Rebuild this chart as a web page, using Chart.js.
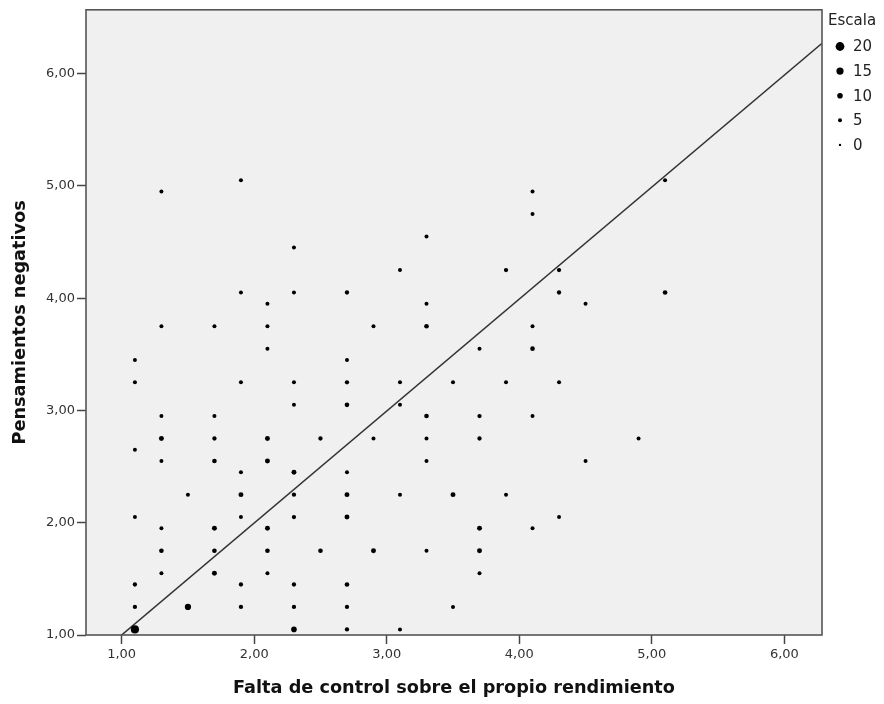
<!DOCTYPE html>
<html>
<head>
<meta charset="utf-8">
<script src="https://cdn.jsdelivr.net/npm/chart.js@4"></script>
<style>
  body { margin: 0; background: #fff; }
  #wrap { width: 884px; height: 704px; }
</style>
</head>
<body>
<div id="wrap"><canvas id="bubbleChart" width="884" height="704"></canvas></div>
<script>
// x positions of the point columns (Falta de control sobre el propio rendimiento)
const xColumns = [1.1, 1.3, 1.5, 1.7, 1.9, 2.1, 2.3, 2.5, 2.7, 2.9, 3.1, 3.3, 3.5, 3.7, 3.9, 4.1, 4.3, 4.5, 4.9, 5.1];
// y values found in each column (Pensamientos negativos)
const yByColumn = [
  [3.45, 3.25, 2.65, 2.05, 1.45, 1.25, 1.05],
  [4.95, 3.75, 2.95, 2.75, 2.55, 1.95, 1.75, 1.55],
  [2.25, 1.25],
  [3.75, 2.95, 2.75, 2.55, 1.95, 1.75, 1.55],
  [5.05, 4.05, 3.25, 2.45, 2.25, 2.05, 1.45, 1.25],
  [3.95, 3.75, 3.55, 2.75, 2.55, 1.95, 1.75, 1.55],
  [4.45, 4.05, 3.25, 3.05, 2.45, 2.25, 2.05, 1.45, 1.25, 1.05],
  [2.75, 1.75],
  [4.05, 3.45, 3.25, 3.05, 2.45, 2.25, 2.05, 1.45, 1.25, 1.05],
  [3.75, 2.75, 1.75],
  [4.25, 3.25, 3.05, 2.25, 1.05],
  [4.55, 3.95, 3.75, 2.95, 2.75, 2.55, 1.75],
  [3.25, 2.25, 1.25],
  [3.55, 2.95, 2.75, 1.95, 1.75, 1.55],
  [4.25, 3.25, 2.25],
  [4.95, 4.75, 3.75, 3.55, 2.95, 1.95],
  [4.25, 4.05, 3.25, 2.05],
  [3.95, 2.55],
  [2.75],
  [5.05, 4.05]
];
// "Escala" value of each point (drives the marker size)
const countByColumn = [
  [5, 5, 5, 5, 6, 6, 18],
  [5, 5, 5, 8, 5, 5, 7, 5],
  [5, 12],
  [5, 5, 6, 7, 8, 7, 8],
  [5, 5, 5, 5, 8, 5, 6, 6],
  [5, 5, 5, 8, 8, 8, 7, 5],
  [5, 5, 5, 5, 8, 6, 6, 6, 6, 10],
  [6, 7],
  [6, 5, 6, 7, 5, 8, 8, 7, 6, 6],
  [5, 5, 8],
  [5, 5, 5, 5, 5],
  [5, 5, 7, 7, 5, 5, 5],
  [5, 8, 5],
  [5, 6, 6, 8, 8, 5],
  [6, 5, 5],
  [5, 5, 5, 7, 5, 5],
  [6, 6, 5, 5],
  [5, 5],
  [5],
  [5, 7]
];
const xTicks = [1, 2, 3, 4, 5, 6];
const yTicks = [1, 2, 3, 4, 5, 6];
const legendValues = [20, 15, 10, 5, 0];
const fitSlope = 0.9974;
const fitIntercept = 0.0026;
const xMin = 0.731, xMax = 6.284;
const yMin = 1.0, yMax = 6.568;

const fmt = (v) => v.toFixed(2).replace(".", ",");
const radiusFor = (c) => 1.2 + 0.16 * c;

let points = [];
let pointCounts = [];
xColumns.forEach((x, i) => {
  yByColumn[i].forEach((y, j) => {
    points.push({ x: x, y: y });
    pointCounts.push(countByColumn[i][j]);
  });
});

const plotFrame = {
  id: "plotFrame",
  beforeDraw(chart) {
    const { ctx, chartArea: a } = chart;
    ctx.save();
    ctx.fillStyle = "#ffffff";
    ctx.fillRect(0, 0, chart.width, chart.height);
    ctx.fillStyle = "#f0f0f0";
    ctx.fillRect(a.left, a.top, a.right - a.left, a.bottom - a.top);
    ctx.restore();
  },
  afterDatasetsDraw(chart) {
    const { ctx, chartArea: a } = chart;
    ctx.save();
    ctx.strokeStyle = "#555555";
    ctx.lineWidth = 1.6;
    ctx.strokeRect(a.left, a.top, a.right - a.left, a.bottom - a.top);
    ctx.restore();
  }
};

const sizeLegend = {
  id: "sizeLegend",
  afterDraw(chart) {
    const ctx = chart.ctx;
    const a = chart.chartArea;
    ctx.save();
    ctx.font = "15px 'DejaVu Sans'";
    ctx.fillStyle = "#222";
    ctx.textBaseline = "middle";
    ctx.textAlign = "left";
    ctx.fillText("Escala", a.right + 6, 21);
    legendValues.forEach((v, i) => {
      const y = 46.5 + i * 24.6;
      ctx.beginPath();
      ctx.arc(a.right + 18, y, radiusFor(v), 0, Math.PI * 2);
      ctx.fillStyle = "#000";
      ctx.fill();
      ctx.fillStyle = "#222";
      ctx.fillText(String(v), a.right + 31, y + 1);
    });
    ctx.restore();
  }
};

new Chart(document.getElementById("bubbleChart").getContext("2d"), {
  type: "scatter",
  data: {
    datasets: [
      {
        label: "Escala",
        data: points,
        backgroundColor: "#000",
        borderWidth: 0,
        pointRadius: (ctx) => radiusFor(pointCounts[ctx.dataIndex] || 0),
        pointHoverRadius: (ctx) => radiusFor(pointCounts[ctx.dataIndex] || 0),
      },
      {
        type: "line",
        label: "Ajuste",
        data: [
          { x: xMin, y: fitIntercept + fitSlope * xMin },
          { x: xMax, y: fitIntercept + fitSlope * xMax },
        ],
        borderColor: "#333",
        borderWidth: 1.5,
        pointRadius: 0,
        fill: false,
        clip: 0,
      },
    ],
  },
  options: {
    responsive: false,
    animation: false,
    layout: { padding: { top: 8, right: 62, left: 0, bottom: 0 } },
    plugins: {
      legend: { display: false },
      tooltip: { enabled: false },
    },
    scales: {
      x: {
        type: "linear",
        min: xMin,
        max: xMax,
        afterBuildTicks: (s) => { s.ticks = xTicks.map((v) => ({ value: v })); },
        afterFit: (s) => { s.height = 69; },
        grid: { drawOnChartArea: false, drawTicks: true, tickLength: 9, tickColor: "#444", tickWidth: 1.5 },
        border: { display: false },
        ticks: {
          padding: 3,
          maxRotation: 0,
          color: "#333",
          font: { family: "DejaVu Sans", size: 13 },
          callback: (v) => fmt(v),
        },
        title: {
          display: true,
          text: "Falta de control sobre el propio rendimiento",
          color: "#111",
          font: { family: "DejaVu Sans", weight: "bold", size: 17.7 },
          padding: { top: 0, bottom: 5 },
        },
      },
      y: {
        type: "linear",
        min: yMin,
        max: yMax,
        afterBuildTicks: (s) => { s.ticks = yTicks.map((v) => ({ value: v })); },
        afterFit: (s) => { s.width = 86; },
        grid: { drawOnChartArea: false, drawTicks: true, tickLength: 9, tickColor: "#444", tickWidth: 1.5 },
        border: { display: false },
        ticks: {
          padding: 2,
          color: "#333",
          font: { family: "DejaVu Sans", size: 13 },
          callback: (v) => fmt(v),
        },
        title: {
          display: true,
          text: "Pensamientos negativos",
          color: "#111",
          font: { family: "DejaVu Sans", weight: "bold", size: 17.7 },
          padding: { top: 10, bottom: 0 },
        },
      },
    },
  },
  plugins: [plotFrame, sizeLegend],
});
</script>
</body>
</html>
